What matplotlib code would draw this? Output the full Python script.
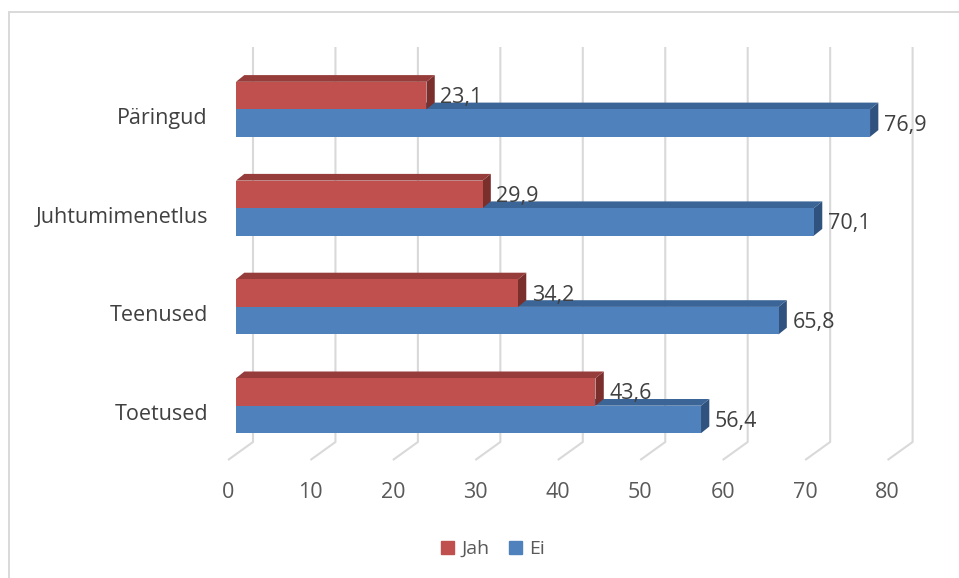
import matplotlib
matplotlib.use('Agg')
import matplotlib.pyplot as plt
import matplotlib.patches as mpatches
import numpy as np

# data (bottom to top, as drawn)
categories = ['Toetused', 'Teenused', 'Juhtumimenetlus', 'Päringud']
jah = [43.6, 34.2, 29.9, 23.1]
ei = [56.4, 65.8, 70.1, 76.9]
ticks = [0, 10, 20, 30, 40, 50, 60, 70, 80]

plt.rcParams['font.family'] = ['Open Sans', 'DejaVu Sans']

W, H = 959, 578
XS, YS = 8.245, 98.8        # pixels per value unit / per category
X0, Y0 = 236, 405.7          # pixel of value 0 / first category centre
DX, DY = 8.3 / XS, 6.7 / YS  # 3d depth of the bars
BH = 27.5 / YS               # bar thickness

RED = ('#C0504D', '#963C3A', '#7A2F2D')
BLUE = ('#4F81BD', '#3B6597', '#2F527E')
GRID = '#D9D9D9'
TXT = '#404040'
FS = 15.5

fig = plt.figure(figsize=(W / 100, H / 100), dpi=100)
fig.patch.set_facecolor('white')
ax = fig.add_axes([0, 0, 1, 1])
ax.set_xlim(-X0 / XS, (W - X0) / XS)
ax.set_ylim((Y0 - H) / YS, Y0 / YS)
ax.axis('off')

# chart frame (only left/top visible)
fig.add_artist(mpatches.Rectangle((8.5 / W, -0.05), 1.1, 1 - 11.5 / H + 0.05,
                                  transform=fig.transFigure, fill=False,
                                  edgecolor=GRID, lw=1.4))

# gridlines on the back wall + floor
back = 17 / XS
y_floor = (Y0 - 442) / YS
y_top = (Y0 - 47) / YS
y_front = (Y0 - 460) / YS
for t in ticks:
    ax.plot([t + back, t + back, t - 8 / XS], [y_top, y_floor, y_front],
            color=GRID, lw=1.5, zorder=1, solid_capstyle='butt')
    ax.text(t - 8 / XS, (Y0 - 492) / YS, str(t), ha='center', va='center',
            fontsize=FS, color='#595959')


def bar3d(v, y0, cols):
    y1 = y0 + BH
    front, top, side = cols
    ax.fill([v, v, v + DX, v + DX], [y0, y1, y1 + DY, y0 + DY],
            color=side, lw=0, zorder=3)
    ax.fill([0, v, v + DX, DX], [y1, y1, y1 + DY, y1 + DY],
            color=top, lw=0, zorder=3)
    ax.barh(y0, v, height=BH, left=0, align='edge', color=front,
            lw=0, zorder=3)
    ax.text(v + DX + 5.5 / XS, y0 + BH / 2 - 2 / YS, f'{v:.1f}'.replace('.', ','),
            ha='left', va='center', fontsize=FS, color=TXT, zorder=5)


pos = np.arange(len(categories))
for i, c in enumerate(categories):
    bar3d(ei[i], pos[i] - BH, BLUE)
    bar3d(jah[i], pos[i], RED)
    ax.text(-3.4, pos[i] - 9 / YS, c, ha='right', va='center',
            fontsize=FS, color=TXT)

handles = [mpatches.Patch(color=RED[0], label='Jah'),
           mpatches.Patch(color=BLUE[0], label='Ei')]
leg = ax.legend(handles=handles, loc='center', ncol=2, frameon=False,
                bbox_to_anchor=(493 / W, 1 - 549 / H), fontsize=14,
                handlelength=0.65, handleheight=0.65, handletextpad=0.4,
                columnspacing=1.0)
for t in leg.get_texts():
    t.set_color('#595959')

fig.savefig('out.png', dpi=100, facecolor='white')
